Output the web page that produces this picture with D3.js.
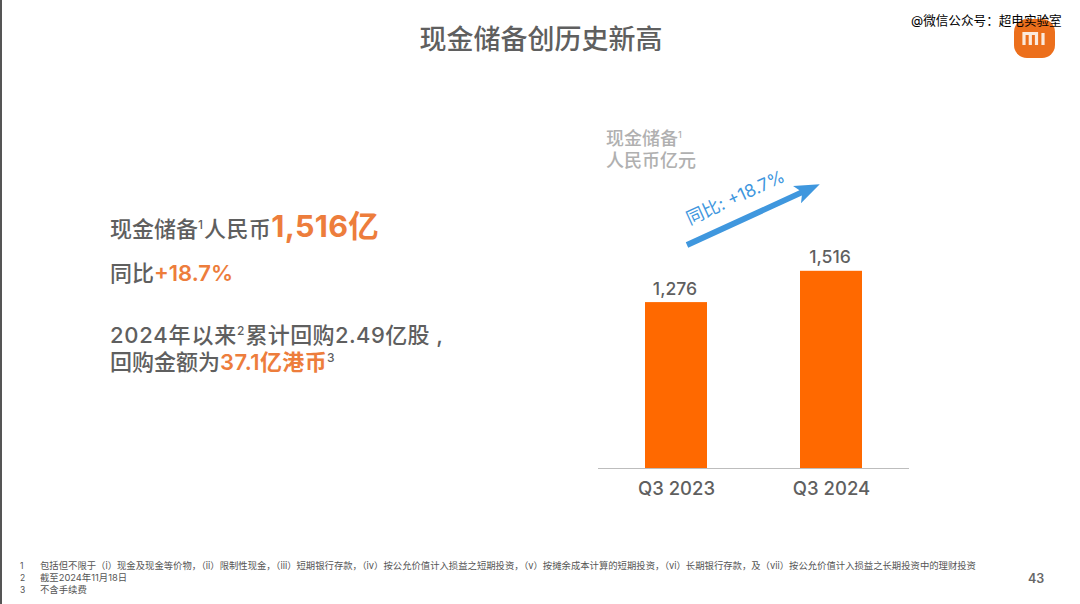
<!DOCTYPE html>
<html><head><meta charset="utf-8">
<script src="https://cdn.jsdelivr.net/npm/d3@7"></script>
<style>
html,body{margin:0;padding:0;background:#fff;overflow:hidden}
text{font-family:"Inter","Noto Sans CJK SC",sans-serif}
</style></head><body><svg id="c" width="1080" height="604"></svg>
<script>
const categories=["Q3 2023","Q3 2024"];
const cashValues=[1276,1516];
const valueLabels=["1,276","1,516"];
const titleText="现金储备创历史新高";
const chartTitle=["现金储备","人民币亿元"];
const yoyLabel="同比: +18.7%";
const footnotes=[
 ["1","包括但不限于（i）现金及现金等价物，（ii）限制性现金，（iii）短期银行存款，（iv）按公允价值计入损益之短期投资，（v）按摊余成本计算的短期投资，（vi）长期银行存款，及（vii）按公允价值计入损益之长期投资中的理财投资"],
 ["2","截至2024年11月18日"],
 ["3","不含手续费"]];
const pageNumber="43";
const watermark="@微信公众号：超电实验室";

const GREY="#5f5f5f",ORANGE="#ff6900",SOFT="#ed7d3c",BLUE="#3f97de";
const svg=d3.select("#c");
svg.append("rect").attr("width",1080).attr("height",604).attr("fill","#fff");
svg.append("rect").attr("width",2).attr("height",604).attr("fill","#555");

svg.append("text").attr("x",541).attr("y",49).attr("text-anchor","middle")
 .attr("font-size",27).attr("font-weight",500).attr("fill",GREY).text(titleText);

// logo
const logo=svg.append("g");
logo.append("rect").attr("x",1014).attr("y",19).attr("width",41).attr("height",39).attr("rx",13).attr("fill","#ec6f1c");
logo.append("path").attr("d","M1024,45V33.5H1036.5V45M1030.3,35V45M1043,33V45")
 .attr("fill","none").attr("stroke","#fbe9dc").attr("stroke-width",3.2);
svg.append("text").attr("x",911).attr("y",24.5).attr("font-size",12.6).attr("fill","#000").text(watermark);

// left rich text
function rich(x,y,segs){
 const t=svg.append("text").attr("x",x).attr("y",y).attr("xml:space","preserve");
 segs.forEach(s=>{
  const ts=t.append("tspan").attr("font-size",s.size).attr("fill",s.color||GREY).attr("font-weight",s.w||500).text(s.t);
  if(s.ls){ts.attr("letter-spacing",s.ls);}
  if(s.sup){ts.attr("dy",-s.sup);}
  if(s.down){ts.attr("dy",s.down);}
 });
}
rich(110,237,[{t:"现金储备",size:22},{t:"1",size:12,sup:8,ls:1},{t:"人民币",size:22,down:8,ls:0.4},{t:"1,516亿",size:30.5,color:SOFT,w:700,ls:0.3}]);
rich(110,281,[{t:"同比",size:22},{t:"+18.7%",size:22,color:SOFT,w:600}]);
rich(110,343,[{t:"2024年以来",size:22,ls:0.8},{t:"2",size:12,sup:8,ls:1},{t:"累计回购2.49亿股 ,",size:22,down:8,ls:0.4}]);
rich(110,370,[{t:"回购金额为",size:22},{t:"37.1亿港币",size:22,color:SOFT,w:600,ls:0.4},{t:"3",size:12,sup:8}]);

// chart
const baseY=468.5;
const y=d3.scaleLinear().domain([0,1516]).range([baseY,270.8]);
const xs=d3.scalePoint().domain(categories).range([676,831]);
const barW=62;
svg.append("g").selectAll("rect").data(cashValues).join("rect")
 .attr("x",(d,i)=>xs(categories[i])-barW/2).attr("width",barW)
 .attr("y",d=>y(d)).attr("height",d=>y(0)-y(d)).attr("fill",ORANGE);
const axis=svg.append("g").attr("transform",`translate(0,${baseY})`)
 .call(d3.axisBottom(xs).tickSize(0).tickPadding(13));
axis.select(".domain").attr("d","M598,0H909").attr("stroke","#bdbdbd").attr("stroke-width",1.2);
axis.selectAll("text").attr("font-size",18.5).attr("font-weight",500).attr("fill",GREY)
 .style("font-family",'"Inter","Noto Sans CJK SC",sans-serif');
svg.append("g").selectAll("text").data(cashValues).join("text")
 .attr("x",(d,i)=>xs(categories[i])-1).attr("y",d=>y(d)-7.5).attr("text-anchor","middle")
 .attr("font-size",17.6).attr("font-weight",500).attr("fill",GREY).text((d,i)=>valueLabels[i]);

// chart heading
svg.append("text").attr("x",606).attr("y",145).attr("font-size",18).attr("font-weight",500).attr("fill","#b0b0b0")
 .text(chartTitle[0]).append("tspan").attr("font-size",9).attr("dy",-7).text("1");
svg.append("text").attr("x",606).attr("y",167).attr("font-size",18).attr("font-weight",500).attr("fill","#b0b0b0").text(chartTitle[1]);

// arrow
svg.append("path").attr("d","M0,-2.9H125V-2.9L121,-9.5L146,0L121,9.5L125,2.9H0Z").attr("fill",BLUE)
 .attr("transform","translate(687,245) rotate(-24.6)");
svg.append("text").attr("transform","translate(738,203) rotate(-24.6)").attr("text-anchor","middle")
 .attr("font-size",17.5).attr("font-weight",400).attr("fill",BLUE).text(yoyLabel);

// footnotes
footnotes.forEach((f,i)=>{
 const yy=568.5+i*12.3;
 svg.append("text").attr("x",20).attr("y",yy).attr("font-size",8.5).attr("fill","#555").text(f[0]);
 svg.append("text").attr("x",40).attr("y",yy).attr("font-size",9.35).attr("fill","#555").text(f[1]);
});
svg.append("text").attr("x",1028).attr("y",583).attr("font-size",12.5).attr("font-weight",600).attr("fill","#666").text(pageNumber);
</script></body></html>
